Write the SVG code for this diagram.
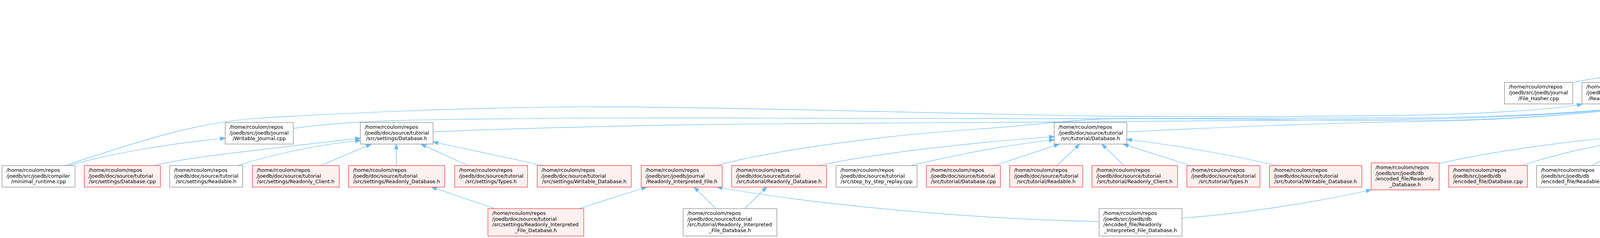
<svg xmlns="http://www.w3.org/2000/svg" width="6090" height="608" viewBox="0 0 6090 608">
<style>
.n rect{fill:#ffffff;stroke:#666666;stroke-width:1}
.r rect{fill:#fff0f0;stroke:#ff0000;stroke-width:1}
.root rect{fill:#999999;stroke:#666666;stroke-width:1}
text{font-family:"DejaVu Sans","Liberation Sans",sans-serif;font-size:12.85px;fill:#000000}
text.c{text-anchor:middle}
#edges path{fill:none;stroke:#63b8ff;stroke-width:1.2;marker-end:url(#a)}
</style>
<defs>
<marker id="a" viewBox="0 0 13 10" refX="12.6" refY="5" markerWidth="13" markerHeight="10" markerUnits="userSpaceOnUse" orient="auto" overflow="visible">
<path d="M0,0.3 L13,5 L0,9.7 Z" fill="#63b8ff" stroke="#63b8ff" stroke-width="1"/>
</marker>
</defs>
<rect x="0" y="0" width="6090" height="608" fill="#ffffff"/>
<g id="edges">
<path d="M4340,108 L4392,60"/>
<path d="M4499,108 L4448,60"/>
<path d="M4026,211 C4110,190 4330,177 4440,160"/>
<path d="M4224,211 C4300,188 4380,172 4440,163"/>
<path d="M4387,210.5 L4468,163"/>
<path d="M4528,210.5 L4528,163"/>
<path d="M4664,210.5 L4579,163"/>
<path d="M4816,211 L4615,160"/>
<path d="M4999,211 L4615,150"/>
<path d="M166,423 C300,380 480,315 650,303 C850,290 1200,274 1500,273 C1800,272 2400,290 2820,296.6 C3100,300 3400,297 3600,294.7 C3800,291 3980,280 4050,266"/>
<path d="M176,423 C280,393 430,367 576.5,353"/>
<path d="M750.7,328 C850,314 960,308 1100,306 C1400,301 1700,300 2000,302 C2400,304 3200,304 3600,301 C3900,299 4120,283 4248.5,264"/>
<path d="M1108.6,337 C1300,328 1700,318 2020,316 C2400,313 3200,309 3600,304.4 C3900,301 4120,284 4248.5,264"/>
<path d="M1832.6,423 C1950,392 2200,350 2500,330 C2620,322 2700,310 2820,304 C3000,300 3300,308 3600,308 C3900,308 4120,285 4248.5,264"/>
<path d="M2884.7,337 C3100,326 3400,314 3600,311 C3900,307 4120,286 4248.5,264"/>
<path d="M4258,313 L4308.7,266"/>
<path d="M4413,313 L4366,266"/>
<path d="M4745,322 C4650,300 4500,280 4423,264"/>
<path d="M4977,316 C4850,295 4600,275 4425,265"/>
<path d="M5161,315 C5000,292 4650,276 4425,266"/>
<path d="M5345,315 C5280,296 5000,290 4750,285 C4580,281 4470,272 4424,265"/>
<path d="M5529,313 C5450,292 5300,285 5000,285 C4720,285 4500,275 4424,264"/>
<path d="M393.6,423 C460,405 640,385 922.4,353"/>
<path d="M608,423 C680,400 800,370 922.4,359"/>
<path d="M821,423 L950,368.4"/>
<path d="M1014.5,423 L1014.5,368.4"/>
<path d="M1198.4,423 L1078,368.4"/>
<path d="M1392,423 L1108.6,362.5"/>
<path d="M1266.7,533 L1105,478"/>
<path d="M1481.4,533 L1655,478"/>
<path d="M1832.6,533 L1777.3,478"/>
<path d="M1906,533 L1962.7,478"/>
<path d="M2094,423 C2250,390 2500,363 2698.7,349"/>
<path d="M2332,423 C2450,395 2580,370 2698.7,357"/>
<path d="M2546.5,423 L2711,368.4"/>
<path d="M2706,423 L2763.6,368.4"/>
<path d="M2877.4,423 L2821,368.4"/>
<path d="M3048.4,423 L2875.8,368.4"/>
<path d="M3269,423 C3150,395 3000,370 2884.7,356"/>
<path d="M2813.6,566 C2500,560 2100,525 1836,478"/>
<path d="M3025.9,557 C3200,545 3400,510 3510,485"/>
<path d="M3683.7,418 C3800,390 4000,362 4137,351"/>
<path d="M3895.5,423 C3980,395 4060,377 4137,364.5"/>
<path d="M4076,423 L4175.3,368.4"/>
<path d="M4230.2,416 L4230.2,368.4"/>
<path d="M4374,423 L4282.5,368.4"/>
<path d="M4527,417 C4450,395 4380,380 4324,367"/>
<path d="M4733,423 C4680,395 4550,378 4450,374 C4400,372 4350,369 4324,367"/>
<path d="M4990,423 L4902,368.4"/>
<path d="M5179,423 C5120,400 5020,385 4954,367"/>
<path d="M5416,423 C5350,400 5250,392 5100,388 C5020,385 4980,375 4954,367"/>
<path d="M5648,423 C5550,398 5400,390 5100,387 C5020,385 4980,374 4954,367"/>
<path d="M5884,423 C5800,400 5600,387 5300,387 C5100,387 5000,378 4954,367"/>
</g>
<g id="H" class="root"><rect x="4332.3" y="5" width="175.2" height="55"/><text x="4343.3" y="20.8">/home/rcoulom/repos</text><text x="4343.3" y="35.6">/joedb/src/joedb/journal</text><text class="c" x="4419.9" y="50.4">/Header.h</text></g>
<g id="SC" class="n"><rect x="4207.7" y="108" width="208.2" height="55"/><text x="4218.7" y="123.8">/home/rcoulom/repos</text><text x="4218.7" y="138.6">/joedb/src/joedb/concurrency</text><text class="c" x="4311.8" y="153.4">/Server_Client.cpp</text></g>
<g id="RJh" class="n"><rect x="4440" y="108" width="175" height="55"/><text x="4451" y="123.8">/home/rcoulom/repos</text><text x="4451" y="138.6">/joedb/src/joedb/journal</text><text class="c" x="4527.5" y="153.4">/Readonly_Journal.h</text></g>
<g id="FH" class="n"><rect x="3851.6" y="210.5" width="174.6" height="55"/><text x="3862.6" y="226.3">/home/rcoulom/repos</text><text x="3862.6" y="241.1">/joedb/src/joedb/journal</text><text class="c" x="3938.9" y="255.9">/File_Hasher.cpp</text></g>
<g id="RJc" class="n"><rect x="4049.8" y="210.5" width="174.7" height="55"/><text x="4060.8" y="226.3">/home/rcoulom/repos</text><text x="4060.8" y="241.1">/joedb/src/joedb/journal</text><text class="c" x="4137.2" y="255.9">/Readonly_Journal.cpp</text></g>
<g id="WJh" class="n"><rect x="4248.5" y="210.5" width="174.5" height="55"/><text x="4259.5" y="226.3">/home/rcoulom/repos</text><text x="4259.5" y="241.1">/joedb/src/joedb/journal</text><text class="c" x="4335.8" y="255.9">/Writable_Journal.h</text></g>
<g id="DG" class="n"><rect x="4447.6" y="210.5" width="160.6" height="55"/><text x="4458.6" y="226.3">/home/rcoulom/repos</text><text x="4458.6" y="241.1">/joedb/src/joedb/ui</text><text class="c" x="4527.9" y="255.9">/diagnostics.cpp</text></g>
<g id="DU" class="n"><rect x="4631.7" y="210.5" width="160" height="55"/><text x="4642.7" y="226.3">/home/rcoulom/repos</text><text x="4642.7" y="241.1">/joedb/src/joedb/ui</text><text class="c" x="4711.7" y="255.9">/dump.cpp</text></g>
<g id="LD" class="n"><rect x="4815.8" y="210.5" width="160" height="55"/><text x="4826.8" y="226.3">/home/rcoulom/repos</text><text x="4826.8" y="241.1">/joedb/src/joedb/ui</text><text class="c" x="4895.8" y="255.9">/joedb_logdump.cpp</text></g>
<g id="TJ" class="n"><rect x="4999.4" y="210.5" width="160" height="55"/><text x="5010.4" y="226.3">/home/rcoulom/repos</text><text x="5010.4" y="241.1">/joedb/src/joedb/ui</text><text class="c" x="5079.4" y="255.9">/joedb_to_json.cpp</text></g>
<g id="WJc" class="n"><rect x="576.5" y="313" width="174.2" height="55"/><text x="587.5" y="328.8">/home/rcoulom/repos</text><text x="587.5" y="343.6">/joedb/src/joedb/journal</text><text class="c" x="663.6" y="358.4">/Writable_Journal.cpp</text></g>
<g id="SDh" class="n"><rect x="922.4" y="313" width="186.2" height="55"/><text x="933.4" y="328.8">/home/rcoulom/repos</text><text x="933.4" y="343.6">/joedb/doc/source/tutorial</text><text class="c" x="1015.5" y="358.4">/src/settings/Database.h</text></g>
<g id="TDh" class="n"><rect x="2698.7" y="313" width="186" height="55"/><text x="2709.7" y="328.8">/home/rcoulom/repos</text><text x="2709.7" y="343.6">/joedb/doc/source/tutorial</text><text class="c" x="2791.7" y="358.4">/src/tutorial/Database.h</text></g>
<g id="EDh" class="n"><rect x="4137.1" y="313" width="186.7" height="55"/><text x="4148.1" y="328.8">/home/rcoulom/repos</text><text x="4148.1" y="343.6">/joedb/src/joedb/db</text><text class="c" x="4230.5" y="358.4">/encoded_file/Database.h</text></g>
<g id="JC" class="n"><rect x="4347.9" y="313" width="186.5" height="55"/><text x="4358.9" y="328.8">/home/rcoulom/repos</text><text x="4358.9" y="343.6">/joedb/src/joedb/compiler</text><text class="c" x="4441.2" y="358.4">/joedbc.cpp</text></g>
<g id="CN" class="n"><rect x="4745.2" y="313" width="207.6" height="55"/><text x="4756.2" y="328.8">/home/rcoulom/repos</text><text x="4756.2" y="343.6">/joedb/src/joedb/concurrency</text><text class="c" x="4849" y="358.4">/Connection.h</text></g>
<g id="IP" class="n"><rect x="4976.9" y="313" width="160.5" height="55"/><text x="4987.9" y="328.8">/home/rcoulom/repos</text><text x="4987.9" y="343.6">/joedb/src/joedb/ui</text><text class="c" x="5057.2" y="358.4">/inplace_pack.cpp</text></g>
<g id="JM" class="n"><rect x="5161" y="313" width="160" height="55"/><text x="5172" y="328.8">/home/rcoulom/repos</text><text x="5172" y="343.6">/joedb/src/joedb/ui</text><text class="c" x="5241" y="358.4">/joedb_merge.cpp</text></g>
<g id="JI" class="n"><rect x="5345.3" y="313" width="159.5" height="55"/><text x="5356.3" y="328.8">/home/rcoulom/repos</text><text x="5356.3" y="343.6">/joedb/src/joedb/ui</text><text class="c" x="5425" y="358.4">/joedbi.cpp</text></g>
<g id="PJ" class="r"><rect x="5529.2" y="313" width="170.3" height="55"/><text x="5540.2" y="328.8">/home/rcoulom/repos</text><text x="5540.2" y="343.6">/joedb/src/joedb/ui</text><text class="c" x="5614.4" y="358.4">/process_journal_pair.h</text></g>
<g id="MR" class="n"><rect x="5.2" y="423" width="186.8" height="55"/><text x="16.2" y="438.8">/home/rcoulom/repos</text><text x="16.2" y="453.6">/joedb/src/joedb/compiler</text><text class="c" x="98.6" y="468.4">/minimal_runtime.cpp</text></g>
<g id="SDc" class="r"><rect x="215.7" y="423" width="195" height="55"/><text x="226.7" y="438.8">/home/rcoulom/repos</text><text x="226.7" y="453.6">/joedb/doc/source/tutorial</text><text class="c" x="313.2" y="468.4">/src/settings/Database.cpp</text></g>
<g id="SRe" class="n"><rect x="434.3" y="423" width="187" height="55"/><text x="445.3" y="438.8">/home/rcoulom/repos</text><text x="445.3" y="453.6">/joedb/doc/source/tutorial</text><text class="c" x="527.8" y="468.4">/src/settings/Readable.h</text></g>
<g id="SRC" class="r"><rect x="646" y="423" width="222.4" height="55"/><text x="657" y="438.8">/home/rcoulom/repos</text><text x="657" y="453.6">/joedb/doc/source/tutorial</text><text class="c" x="757.2" y="468.4">/src/settings/Readonly_Client.h</text></g>
<g id="SRD" class="r"><rect x="892.5" y="423" width="246.1" height="55"/><text x="903.5" y="438.8">/home/rcoulom/repos</text><text x="903.5" y="453.6">/joedb/doc/source/tutorial</text><text class="c" x="1015.6" y="468.4">/src/settings/Readonly_Database.h</text></g>
<g id="STy" class="r"><rect x="1163.9" y="423" width="186.7" height="55"/><text x="1174.9" y="438.8">/home/rcoulom/repos</text><text x="1174.9" y="453.6">/joedb/doc/source/tutorial</text><text class="c" x="1257.3" y="468.4">/src/settings/Types.h</text></g>
<g id="SWD" class="r"><rect x="1375.3" y="423" width="240.7" height="55"/><text x="1386.3" y="438.8">/home/rcoulom/repos</text><text x="1386.3" y="453.6">/joedb/doc/source/tutorial</text><text class="c" x="1495.7" y="468.4">/src/settings/Writable_Database.h</text></g>
<g id="RIF" class="r"><rect x="1641.4" y="423" width="207.5" height="55"/><text x="1652.4" y="438.8">/home/rcoulom/repos</text><text x="1652.4" y="453.6">/joedb/src/joedb/journal</text><text class="c" x="1745.2" y="468.4">/Readonly_Interpreted_File.h</text></g>
<g id="TRD" class="r"><rect x="1873" y="423" width="243" height="55"/><text x="1884" y="438.8">/home/rcoulom/repos</text><text x="1884" y="453.6">/joedb/doc/source/tutorial</text><text class="c" x="1994.5" y="468.4">/src/tutorial/Readonly_Database.h</text></g>
<g id="SBS" class="n"><rect x="2140.2" y="423" width="207.6" height="55"/><text x="2151.2" y="438.8">/home/rcoulom/repos</text><text x="2151.2" y="453.6">/joedb/doc/source/tutorial</text><text class="c" x="2244" y="468.4">/src/step_by_step_replay.cpp</text></g>
<g id="TDc" class="r"><rect x="2371.3" y="423" width="189.9" height="55"/><text x="2382.3" y="438.8">/home/rcoulom/repos</text><text x="2382.3" y="453.6">/joedb/doc/source/tutorial</text><text class="c" x="2466.3" y="468.4">/src/tutorial/Database.cpp</text></g>
<g id="TRe" class="r"><rect x="2584.7" y="423" width="187.2" height="55"/><text x="2595.7" y="438.8">/home/rcoulom/repos</text><text x="2595.7" y="453.6">/joedb/doc/source/tutorial</text><text class="c" x="2678.3" y="468.4">/src/tutorial/Readable.h</text></g>
<g id="TRC" class="r"><rect x="2795.5" y="423" width="218.9" height="55"/><text x="2806.5" y="438.8">/home/rcoulom/repos</text><text x="2806.5" y="453.6">/joedb/doc/source/tutorial</text><text class="c" x="2905" y="468.4">/src/tutorial/Readonly_Client.h</text></g>
<g id="TTy" class="r"><rect x="3038.5" y="423" width="186.7" height="55"/><text x="3049.5" y="438.8">/home/rcoulom/repos</text><text x="3049.5" y="453.6">/joedb/doc/source/tutorial</text><text class="c" x="3131.9" y="468.4">/src/tutorial/Types.h</text></g>
<g id="TWD" class="r"><rect x="3249.8" y="423" width="236.4" height="55"/><text x="3260.8" y="438.8">/home/rcoulom/repos</text><text x="3260.8" y="453.6">/joedb/doc/source/tutorial</text><text class="c" x="3368" y="468.4">/src/tutorial/Writable_Database.h</text></g>
<g id="ERD" class="r"><rect x="3510.2" y="416" width="174" height="69"/><text x="3521.2" y="431.8">/home/rcoulom/repos</text><text x="3521.2" y="446.6">/joedb/src/joedb/db</text><text x="3521.2" y="461.4">/encoded_file/Readonly</text><text class="c" x="3597.2" y="476.2">_Database.h</text></g>
<g id="EDc" class="r"><rect x="3708.3" y="423" width="201.8" height="55"/><text x="3719.3" y="438.8">/home/rcoulom/repos</text><text x="3719.3" y="453.6">/joedb/src/joedb/db</text><text class="c" x="3809.2" y="468.4">/encoded_file/Database.cpp</text></g>
<g id="ERe" class="n"><rect x="3933.7" y="423" width="185.1" height="55"/><text x="3944.7" y="438.8">/home/rcoulom/repos</text><text x="3944.7" y="453.6">/joedb/src/joedb/db</text><text class="c" x="4026.3" y="468.4">/encoded_file/Readable.h</text></g>
<g id="ERC" class="r"><rect x="4143.9" y="416" width="173.1" height="69"/><text x="4154.9" y="431.8">/home/rcoulom/repos</text><text x="4154.9" y="446.6">/joedb/src/joedb/db</text><text x="4154.9" y="461.4">/encoded_file/Readonly</text><text class="c" x="4230.5" y="476.2">_Client.h</text></g>
<g id="ETy" class="r"><rect x="4341.6" y="423" width="161.4" height="55"/><text x="4352.6" y="438.8">/home/rcoulom/repos</text><text x="4352.6" y="453.6">/joedb/src/joedb/db</text><text class="c" x="4422.3" y="468.4">/encoded_file/Types.h</text></g>
<g id="EWD" class="r"><rect x="4527.1" y="416" width="166.8" height="69"/><text x="4538.1" y="431.8">/home/rcoulom/repos</text><text x="4538.1" y="446.6">/joedb/src/joedb/db</text><text x="4538.1" y="461.4">/encoded_file/Writable</text><text class="c" x="4610.5" y="476.2">_Database.h</text></g>
<g id="REF" class="r"><rect x="4717.5" y="423" width="190.9" height="55"/><text x="4728.5" y="438.8">/home/rcoulom/repos</text><text x="4728.5" y="453.6">/joedb/src/joedb/journal</text><text class="c" x="4813" y="468.4">/Readonly_Encoded_File.h</text></g>
<g id="CL" class="r"><rect x="4932.9" y="423" width="208.7" height="55"/><text x="4943.9" y="438.8">/home/rcoulom/repos</text><text x="4943.9" y="453.6">/joedb/src/joedb/concurrency</text><text class="c" x="5037.3" y="468.4">/Client.h</text></g>
<g id="CC" class="n"><rect x="5165.2" y="423" width="207.9" height="55"/><text x="5176.2" y="438.8">/home/rcoulom/repos</text><text x="5176.2" y="453.6">/joedb/src/joedb/concurrency</text><text class="c" x="5269.2" y="468.4">/Connection.cpp</text></g>
<g id="FC" class="r"><rect x="5397" y="423" width="208.3" height="55"/><text x="5408" y="438.8">/home/rcoulom/repos</text><text x="5408" y="453.6">/joedb/src/joedb/concurrency</text><text class="c" x="5501.2" y="468.4">/File_Connection.h</text></g>
<g id="SCn" class="r"><rect x="5629.1" y="423" width="207.8" height="55"/><text x="5640.1" y="438.8">/home/rcoulom/repos</text><text x="5640.1" y="453.6">/joedb/src/joedb/concurrency</text><text class="c" x="5733" y="468.4">/Server_Connection.h</text></g>
<g id="DC" class="r"><rect x="5861.8" y="423" width="222.5" height="55"/><text x="5872.8" y="438.8">/home/rcoulom/repos</text><text x="5872.8" y="453.6">/joedb/src/joedb/ui</text><text class="c" x="5973" y="468.4">/Dummy_Connection_Builder.h</text></g>
<g id="SRIF" class="r"><rect x="1249.1" y="533" width="245.3" height="70"/><text x="1260.1" y="548.8">/home/rcoulom/repos</text><text x="1260.1" y="563.6">/joedb/doc/source/tutorial</text><text x="1260.1" y="578.4">/src/settings/Readonly_Interpreted</text><text class="c" x="1371.8" y="593.2">_File_Database.h</text></g>
<g id="TRIF" class="n"><rect x="1748.7" y="533" width="240.1" height="70"/><text x="1759.7" y="548.8">/home/rcoulom/repos</text><text x="1759.7" y="563.6">/joedb/doc/source/tutorial</text><text x="1759.7" y="578.4">/src/tutorial/Readonly_Interpreted</text><text class="c" x="1868.8" y="593.2">_File_Database.h</text></g>
<g id="ERIF" class="n"><rect x="2813.6" y="533" width="212.3" height="70"/><text x="2824.6" y="548.8">/home/rcoulom/repos</text><text x="2824.6" y="563.6">/joedb/src/joedb/db</text><text x="2824.6" y="578.4">/encoded_file/Readonly</text><text class="c" x="2919.8" y="593.2">_Interpreted_File_Database.h</text></g>
</svg>
